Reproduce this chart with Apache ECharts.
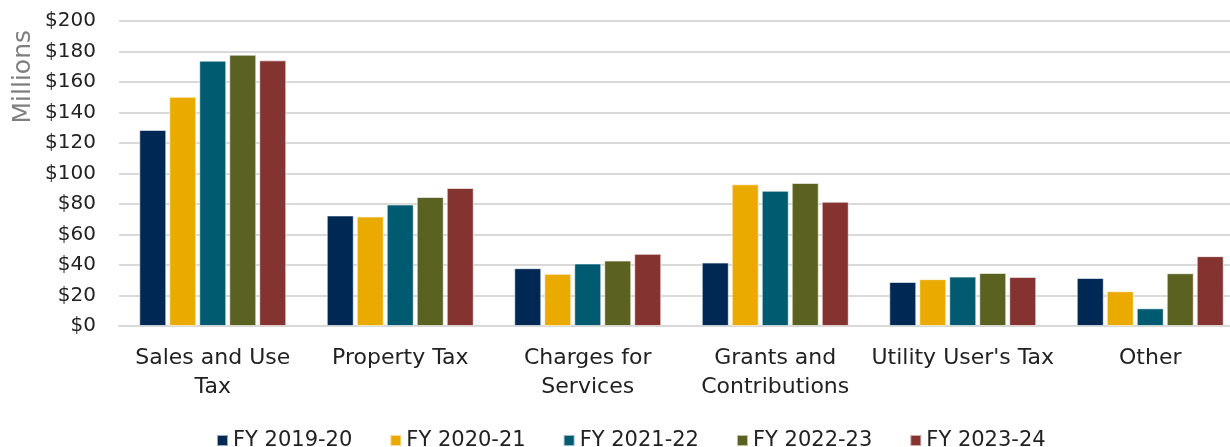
<!DOCTYPE html>
<html>
<head>
<meta charset="utf-8">
<script src="https://cdn.jsdelivr.net/npm/echarts@6/dist/echarts.min.js"></script>
<style>html,body{margin:0;padding:0;background:#fff}#c{width:1230px;height:447px}</style>
</head>
<body>
<div id="c"></div>
<script>
const categories = ["Sales and Use\nTax", "Property Tax", "Charges for\nServices", "Grants and\nContributions", "Utility User's Tax", "Other"];
const seriesNames = ["FY 2019-20", "FY 2020-21", "FY 2021-22", "FY 2022-23", "FY 2023-24"];
const fy1920 = [128.6, 72.5, 37.9, 41.6, 28.9, 31.5];
const fy2021 = [150.3, 71.8, 34.2, 92.9, 30.7, 22.8];
const fy2122 = [174.0, 79.7, 41.0, 88.7, 32.4, 11.6];
const fy2223 = [177.9, 84.6, 42.9, 93.8, 34.8, 34.6];
const fy2324 = [174.2, 90.5, 47.3, 81.5, 32.2, 45.8];
const colors = ["#002855", "#EAAA00", "#005A70", "#5B6120", "#853331"];
const yTicks = [0, 20, 40, 60, 80, 100, 120, 140, 160, 180, 200];

const allData = [fy1920, fy2021, fy2122, fy2223, fy2324];
const font = "'DejaVu Sans', sans-serif";
const chart = echarts.init(document.getElementById('c'));
chart.setOption({
  animation: false,
  color: colors,
  textStyle: { fontFamily: font },
  grid: { left: 119, width: 1125, top: 21, height: 305, outerBoundsMode: 'none', containLabel: false },
  legend: {
    top: 425,
    left: 211,
    itemWidth: 11,
    itemHeight: 11,
    itemGap: 37,
    icon: 'rect',
    textStyle: { fontSize: 21, color: '#222', fontFamily: font },
    data: seriesNames
  },
  xAxis: {
    type: 'category',
    data: categories,
    axisTick: { show: false },
    axisLine: { lineStyle: { color: '#d9d9d9', width: 2 } },
    axisLabel: { fontSize: 22, color: '#222', lineHeight: 29, margin: 18, interval: 0 }
  },
  yAxis: {
    type: 'value',
    min: yTicks[0], max: yTicks[yTicks.length - 1], interval: 20,
    axisLine: { show: false },
    axisTick: { show: false },
    splitLine: { lineStyle: { color: '#d9d9d9', width: 2 } },
    axisLabel: { fontSize: 20, color: '#222', margin: 23, formatter: v => '$' + v }
  },
  graphic: [{
    type: 'text',
    left: 11, top: 30,
    rotation: Math.PI / 2,
    style: { text: 'Millions', fontSize: 25, fill: '#7f7f7f', fontFamily: font }
  }],
  series: seriesNames.map((n, i) => ({
    name: n,
    type: 'bar',
    data: allData[i],
    barGap: '11%',
    barCategoryGap: '21.6%',
    itemStyle: { borderColor: 'rgba(255,255,255,0.6)', borderWidth: 1 }
  }))
});
</script>
</body>
</html>
